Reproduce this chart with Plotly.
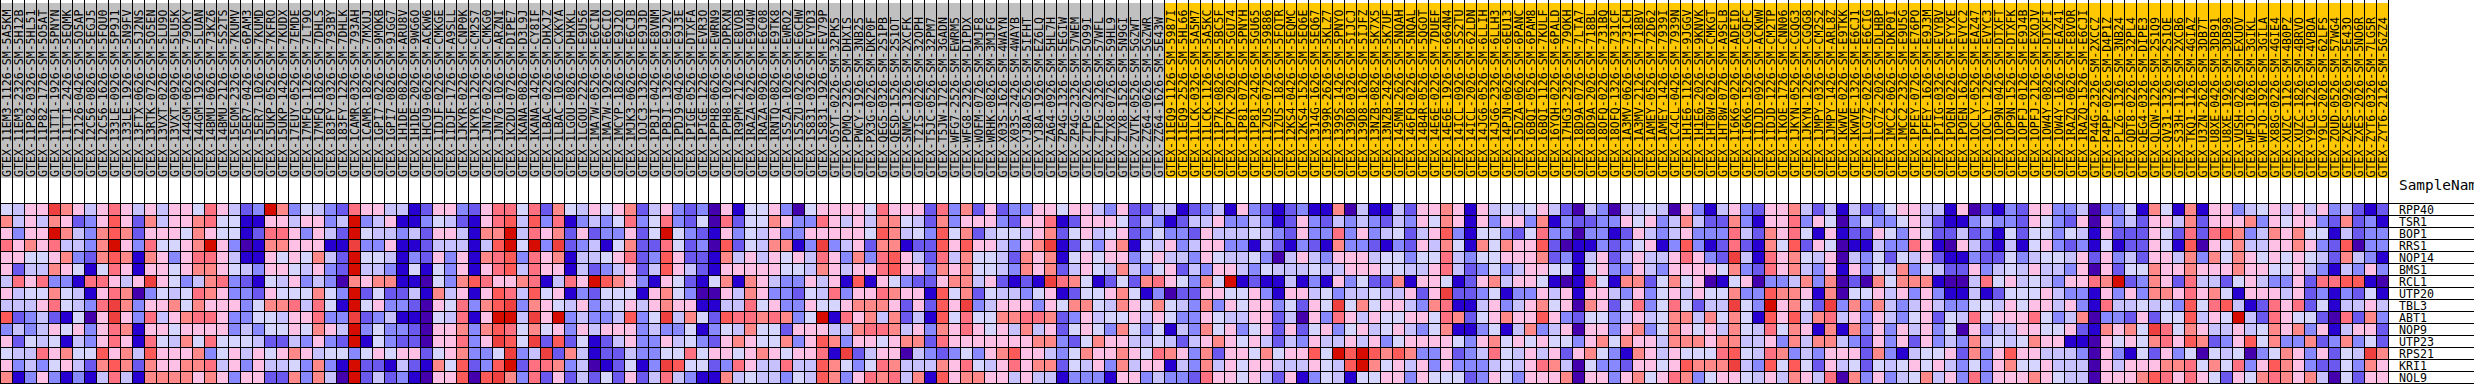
import plotly.graph_objects as go

GENES = ["RPP40","TSR1","BOP1","RRS1","NOP14","BMS1","RCL1","UTP20","TBL3","ABT1","NOP9","UTP23","RPS21","KRI1","NOL9"]
PALETTE = ["#4500AD","#2700D1","#6B58EF","#8888FF","#C7C1FF","#D5D5FF","#FFC0E5","#FF8989","#FF7080","#FF5A5A","#EF4040","#D60C00"]
GROUP_COLORS = ["#C0C0C0","#FFC800"]

SAMPLES_A = "11EM3-1126-SM-5A5KM 11EM3-2326-SM-5H12B 11P82-0326-SM-5HL51 11P82-1726-SM-5O5AT 11TT1-1926-SM-5PNYN 11TT1-2426-SM-5EQMK 12126-0426-SM-5O5AP 12C56-0826-SM-5EGJ5 12C56-1626-SM-5FQU0 133LE-0926-SM-5P9J1 133LE-1926-SM-5N9FV 13FTX-0626-SM-5J2NS 13RTK-0726-SM-5O5EN 13VXT-0226-SM-5LU9O 13VXT-0926-SM-5LU5K 144GM-0626-SM-79OKY 144GM-1926-SM-5LUAN 14BMU-0626-SM-73KZ6 14BMU-2126-SM-5S2TS 15EOM-2326-SM-7KUMV 15ER7-0426-SM-6PAM3 15ER7-1026-SM-7KUMD 15UKP-0526-SM-7KFRO 15UKP-1426-SM-7KUDX 17EUY-0526-SM-7EMDE 17MFQ-1126-SM-7LT9O 17MFQ-1826-SM-7DHLS 183FY-0326-SM-793BY 183FY-1226-SM-7DHLK 1CAMR-0326-SM-793AH 1CAMR-1826-SM-7MXUJ 1GPI7-0226-SM-9MOKB 1GPI7-0826-SM-9JGG7 1H1DE-0826-SM-ARU8V 1H1DE-2026-SM-9WG6O".split()
SAMPLES_B = "1HCU9-0626-SM-ACKW6 1IDJF-0226-SM-CMKGE 1IDJF-1726-SM-A9SLL 1JKYR-0226-SM-CNP0K 1JKYR-1226-SM-CM2S7 1JN76-0226-SM-CMKG0 1JN76-1026-SM-ARZNI 1K2DU-0726-SM-DIPE7 1KANA-0826-SM-D3L9J 1KANA-1426-SM-CY8IF 1LBAC-0226-SM-DHXJZ 1LBAC-1026-SM-CXKYA 1LGOU-0826-SM-DHXKL 1LGOU-2226-SM-E9U56 1MA7W-0526-SM-E6CIN 1MA7W-1926-SM-E6CIO 1MCYP-1826-SM-E9J2O 1MJK3-0626-SM-E6CJB 1OJC3-1326-SM-E9J3D 1PBJI-0426-SM-E8VNM 1PBJI-1326-SM-E9J2V 1PDJ9-0426-SM-E9J3E 1PIGE-0526-SM-DTXFA 1PIGE-1226-SM-EVR3O 1PPH8-0626-SM-EWRN9 1PPH8-1026-SM-DPRXN 1R9PM-2126-SM-E8VOB 1RAZA-0226-SM-E9U4W 1RAZA-0926-SM-E6C08 1RNTQ-0826-SM-E9TK8 1S5ZA-1026-SM-EWRO2 1S5ZU-0226-SM-E6CHW 1S831-0326-SM-EVYD3 1S831-1926-SM-EV79P O5YT-0226-SM-32PK5".split()
SAMPLES_C = "POMQ-2326-SM-DHXIS PWCY-1926-SM-3NB25 PX3G-0226-SM-DKP0F QEG5-0326-SM-2S1PB QESD-1526-SM-2S1OT SNMC-1326-SM-2XCFK T2IS-0226-SM-32OPH T5JC-0526-SM-32PM7 T5JW-1726-SM-3GADN WFG7-2526-SM-EWRM5 WFG8-2326-SM-DIPDX WOFM-0726-SM-3MJF8 WRHK-0826-SM-3MJFG X03S-1626-SM-4WAYN X03S-2426-SM-4WAYB YJ8A-0526-SM-5IFHT YJ8A-1926-SM-EZ6LQ ZA64-0926-SM-5HL7H ZP4G-1326-SM-5EGIW ZP4G-2326-SM-57WEM ZTPG-0226-SM-5O99I ZTPG-2326-SM-57WFL ZTX8-0726-SM-59HL9 ZTX8-1526-SM-5N9GI ZVTK-0526-SM-5GZWT ZZ64-0626-SM-5GZWR ZZ64-1626-SM-5E43W 11EQ9-1126-SM-5987I 11EQ9-2526-SM-5HL66 11LCK-0326-SM-5A5M7 11LCK-1126-SM-5A5KC 11P7K-0826-SM-5BC5F 11P7K-2026-SM-5GU74 11P81-0726-SM-5PNYH 11P81-2426-SM-5GU65".split()
SAMPLES_D = "11ZUS-0726-SM-59886 11ZUS-1826-SM-5FQTR 12KS4-0426-SM-5EQMC 12KS4-1526-SM-5EQ6E 1314G-1626-SM-5EQ67 1399R-2626-SM-5KLZ7 1399S-1426-SM-5PNYO 139D8-0326-SM-5IJCJ 139D8-1626-SM-5IJFZ 13NZB-0826-SM-5K7X5 13NZB-2426-SM-5K7UF 145MN-2626-SM-5NQAH 146FQ-0226-SM-5NQAL 14B4R-0526-SM-5QGOT 14E6E-0226-SM-7DUEF 14E6E-1926-SM-664N4 14ICL-0926-SM-5S2TU 14ICL-2026-SM-62LDN 14JG6-0526-SM-6LLIH 14JG6-2326-SM-6LLH3 14PJN-0626-SM-6EU13 15DZA-0626-SM-6PANC 16BQI-0526-SM-6PAM8 16BQI-1126-SM-7KULF 16YQH-0226-SM-6PALD 17HG3-2326-SM-79OKH 18D9A-0726-SM-7LTA7 18D9A-2026-SM-718BL 18OFQ-0226-SM-731BQ 18OFQ-1326-SM-731CF 1A3MV-0626-SM-731CH 1A3MV-2126-SM-718BV 1AMEY-0526-SM-72D62 1AMEY-1426-SM-7939I 1C4CL-0426-SM-7939N".split()
SAMPLES_E = "1H1E6-1126-SM-9JGGV 1H1E6-2026-SM-9KNVK 1HT8W-0226-SM-CMKGT 1HT8W-0726-SM-A9SLB 1I6K6-0226-SM-ADEID 1I6K6-1526-SM-CGQFC 1IDJD-0926-SM-ACKWW 1IDJD-1226-SM-CM2TP 1IKOE-1726-SM-CNN06 1JKYN-0526-SM-CGQG3 1JKYN-1226-SM-CGQG8 1JMPY-0326-SM-CM2S2 1JMPY-1426-SM-ARL8Z 1KWVE-0226-SM-E9TKK 1KWVE-1326-SM-E6CJ1 1LG7Z-0226-SM-E6CIG 1LG7Z-2026-SM-DLHBP 1MCC2-0626-SM-DKP0I 1MCC2-2326-SM-E9U5G 1PFEY-0726-SM-E76PO 1PFEY-1626-SM-E9J3M 1PIIG-0326-SM-EVYBV 1POEN-0226-SM-EYYXE 1POEN-1626-SM-EVYC2 1OCLY-0526-SM-EAZ47 1OCLY-1226-SM-EVYC3 1OP9N-0426-SM-DTXFT 1OP9N-1526-SM-DTXFK 1OPFJ-0126-SM-E9J4B 1OPFJ-2126-SM-EXOJV 1OW4Y-0826-SM-DTXFI 1OW4Y-1626-SM-EAZ41 1RAZQ-0626-SM-E8VOR 1RAZQ-1526-SM-E6CJI P44G-2326-SM-2XCCZ".split()
SAMPLES_F = "P4PP-0226-SM-D4P1Z PLZ6-1326-SM-3NB24 QDT8-0226-SM-32PL4 QEG4-0326-SM-DIPE3 QLQW-1226-SM-2S1Q9 QV31-1326-SM-2S1OE S33H-1126-SM-2XCB6 TKQ1-1126-SM-4GIAZ U3ZN-2626-SM-3DB7T U8XE-0426-SM-3DB91 U8XE-1926-SM-3DB98 VUSH-0226-SM-EXUOV WFJO-1026-SM-3GIKL WFJO-1926-SM-3GILA X88G-0226-SM-4GIE4 XUZC-1126-SM-4B0PZ XUZC-1826-SM-4BRVO Y9LG-1226-SM-4VBOA Y9LG-2026-SM-62LFS ZOUD-0526-SM-57WG4 ZXES-0926-SM-5E43O ZXES-2026-SM-5NO6R ZYT6-0326-SM-7LG5R ZYT6-2126-SM-5GZZ4".split()
SAMPLES = ["GTEX-" + s for s in SAMPLES_A + SAMPLES_B + SAMPLES_C + SAMPLES_D + SAMPLES_E + SAMPLES_F]
GROUP = [0] * 97 + [1] * 102

RPP40 = [5,4,6,6,10,7,6,4,6,8,6,4,6,4,6,6,5,8,6,4,2,3,11,7,3,5,4,3,2,8,6,6,4,4,1,
 2,6,6,3,2,6,8,8,5,8,2,7,5,4,6,5,6,7,2,4,6,3,2,3,0,6,1,5,5,6,3,0,5,6,6,
 6,6,5,8,6,6,6,2,8,3,7,2,6,2,3,3,6,6,5,6,6,4,3,6,2,2,4,4,1,2,3,4,1,6,3,
 2,1,2,3,1,1,7,0,4,1,1,4,2,6,6,7,6,1,6,4,5,4,5,6,4,2,0,4,3,0,4,4,5,4,0,
 6,3,1,4,6,3,2,6,6,7,4,2,4,1,4,2,3,5,6,6,4,4,1,6,0,2,1,3,2,6,6,3,3,4,0,
 3,3,5,1,7,5,1,7,1,6,6,3,4,5,6,4,6,4,6,3,4,2,1,2]
TSR1 = [7,4,6,4,7,6,2,3,6,9,6,2,7,4,6,6,7,8,5,5,1,1,6,6,4,6,6,3,4,11,3,4,6,1,1,
 3,5,4,2,1,6,8,9,4,9,3,8,1,3,4,3,5,8,3,5,8,3,2,5,0,8,2,5,5,7,6,3,3,8,6,
 4,6,4,7,7,5,4,2,7,3,6,6,6,3,2,6,6,8,1,2,6,6,6,5,2,4,3,1,2,4,4,6,3,3,4,
 3,1,2,6,3,2,4,3,4,3,2,4,3,6,5,7,6,1,6,3,6,6,3,7,1,3,2,2,3,3,6,5,6,3,4,
 7,4,2,2,7,3,1,6,6,8,3,6,5,0,3,5,3,3,5,6,4,2,1,1,3,4,3,3,2,6,5,3,2,6,0,
 6,3,4,2,6,6,4,7,2,6,6,6,7,3,6,5,6,6,3,2,7,2,3,1]
BOP1 = [6,3,6,6,11,7,4,3,7,9,7,2,6,6,6,5,7,6,5,5,1,2,8,8,6,3,6,4,2,11,5,4,4,3,4,
 2,6,6,4,1,7,7,11,4,8,6,7,2,6,2,3,3,6,2,5,11,5,3,2,1,6,3,5,4,6,3,3,6,6,6,
 6,6,5,9,7,4,5,3,9,5,7,2,4,5,5,4,6,7,2,5,6,4,5,6,2,3,5,3,3,2,6,4,4,4,5,
 4,3,2,6,3,3,8,3,6,3,4,5,2,4,6,9,3,1,5,5,3,2,5,8,3,3,0,3,3,1,2,6,4,3,4,
 6,3,3,3,8,4,2,7,6,8,5,1,6,1,2,2,6,5,3,6,5,2,2,4,2,3,1,5,2,5,5,3,5,4,1,
 6,2,2,2,6,5,2,8,2,8,9,7,3,4,7,6,7,5,5,1,4,2,3,3]
RRS1 = [8,6,7,6,8,4,4,3,7,11,6,3,8,5,5,6,7,11,6,3,0,1,7,7,6,6,6,1,1,10,3,3,6,1,1,
 2,4,4,4,1,4,9,11,5,11,3,10,2,3,4,1,5,7,2,2,8,5,2,3,0,9,2,5,4,7,7,1,3,10,3,
 4,6,2,7,7,1,2,2,9,6,9,6,6,4,3,6,7,10,1,2,5,3,6,7,1,5,4,6,3,4,6,6,3,3,1,
 4,2,1,3,2,1,7,3,3,2,1,3,2,6,4,7,5,1,7,5,7,6,6,9,2,0,1,1,3,2,3,5,6,1,3,
 9,3,1,2,8,2,1,7,5,9,2,6,5,0,1,1,4,3,3,8,6,1,0,6,4,2,1,4,1,5,6,3,2,3,1,
 5,1,2,2,6,5,1,9,0,6,5,7,4,4,6,6,7,6,3,2,9,0,3,3]
NOP14 = [6,6,5,5,6,7,3,2,7,9,7,1,7,6,3,6,8,8,6,4,1,1,6,5,6,5,7,4,2,11,5,5,4,1,3,
 2,6,3,6,1,7,8,9,3,8,6,7,1,4,4,5,6,8,2,3,9,6,2,2,1,7,4,6,4,6,5,6,4,8,6,
 3,7,3,8,9,6,4,2,8,4,7,5,5,4,2,7,6,7,1,5,6,5,6,6,3,5,6,4,4,3,6,5,4,4,5,
 3,0,4,6,4,3,6,6,6,4,5,5,3,5,5,8,4,3,5,5,6,6,6,7,2,3,1,4,6,2,4,6,4,4,6,
 8,6,3,2,10,4,1,8,6,7,5,4,6,0,4,3,5,2,5,4,6,2,1,1,3,2,2,5,3,4,5,5,4,6,2,
 6,3,4,2,6,6,4,7,3,7,5,7,6,5,6,5,6,5,4,2,7,4,3,1]
BMS1 = [6,2,4,4,7,6,5,1,5,8,6,1,6,6,5,6,7,7,6,5,4,3,6,6,5,4,6,3,2,11,4,4,3,1,5,
 1,5,3,6,1,6,8,9,4,8,6,6,1,4,2,3,4,6,2,4,9,6,4,2,1,6,6,6,6,6,5,5,4,7,6,
 4,6,6,8,9,6,6,3,7,6,7,5,5,4,3,7,6,7,2,4,6,5,4,7,4,3,5,6,2,4,3,6,6,4,3,
 5,4,4,4,5,4,4,6,6,6,5,5,4,4,6,8,4,2,3,5,3,4,6,6,5,5,1,5,6,3,3,6,4,3,6,
 6,6,6,5,7,3,2,8,6,7,4,3,6,1,6,3,5,4,7,3,5,4,2,2,6,3,4,5,4,6,4,4,3,6,0,
 6,2,5,5,7,6,6,7,6,6,6,7,6,6,5,5,6,4,3,1,4,3,6,3]
RCL1 = [4,8,6,8,3,3,1,8,8,6,4,6,10,6,5,3,4,7,8,3,2,1,5,4,6,3,4,3,0,7,6,7,7,1,1,
 0,5,3,7,9,8,6,6,7,8,1,4,8,6,11,9,7,6,3,1,6,5,2,1,5,7,1,7,6,4,3,3,6,4,6,
 1,9,1,6,5,3,2,2,6,7,7,4,6,2,1,2,1,10,8,7,5,1,2,5,2,7,8,6,5,3,7,5,11,1,2,
 1,1,4,1,3,1,6,3,5,2,2,7,1,6,6,5,1,2,6,7,4,6,6,5,1,0,1,8,5,1,7,7,2,5,7,
 5,6,0,1,5,6,0,3,3,4,7,3,7,0,2,0,7,5,7,7,7,1,0,0,4,8,5,6,4,5,4,3,6,6,8,
 7,11,2,3,7,6,2,8,4,4,2,5,6,4,3,3,6,2,8,8,9,9,1,0]
UTP20 = [6,4,5,5,7,5,4,1,6,8,7,0,3,5,4,5,8,7,6,3,3,2,6,5,5,5,7,5,3,11,2,5,2,2,4,
 1,7,4,6,1,6,9,8,4,9,5,6,1,3,2,5,5,5,1,6,7,5,3,0,0,6,4,7,6,3,3,2,5,4,8,
 3,6,6,8,7,6,6,1,9,5,7,2,5,4,4,3,5,6,1,2,5,5,6,7,5,1,3,0,2,2,6,6,5,5,6,
 3,1,6,6,4,5,3,4,4,5,4,4,6,2,6,10,2,2,3,5,1,3,3,6,4,6,1,6,6,4,3,6,3,5,6,
 4,6,5,5,7,3,3,9,7,7,6,1,7,0,5,5,6,4,6,3,6,3,1,1,4,1,2,5,5,5,6,4,3,3,1,
 6,3,6,3,7,7,6,8,6,7,5,1,6,6,6,4,6,2,3,1,3,2,5,1]
TBL3 = [4,4,4,6,8,5,4,3,8,10,7,3,6,6,7,5,7,6,6,6,3,5,7,7,8,4,8,5,1,11,5,6,3,3,2,
 0,6,5,8,3,7,9,10,3,7,6,5,4,6,3,4,5,6,4,6,7,6,6,1,1,4,4,8,5,6,3,3,6,5,5,
 6,7,7,7,6,2,6,2,9,6,10,3,4,6,6,6,3,6,5,7,7,5,4,7,6,5,7,5,4,3,7,3,6,5,6,
 6,3,5,2,6,5,10,5,7,5,6,6,4,3,7,8,1,1,4,6,3,4,6,7,5,6,0,7,6,2,5,8,3,5,8,
 5,2,4,4,10,5,3,11,6,7,5,2,10,3,7,3,7,4,3,4,6,4,3,3,5,5,4,6,5,6,6,4,6,3,1,
 8,4,4,5,4,5,3,9,5,8,9,4,1,2,8,6,8,2,5,1,4,4,6,4]
ABT1 = [9,2,3,4,2,1,5,0,6,10,6,3,8,4,6,7,8,8,6,3,3,5,5,4,6,6,8,3,3,10,2,3,4,1,1,
 0,5,4,8,1,6,11,11,4,10,6,11,3,4,3,3,4,9,3,5,10,4,7,5,2,9,8,8,7,8,7,3,5,11,1,
 8,6,7,4,7,2,4,1,9,5,8,5,5,7,7,8,8,7,2,3,6,4,5,5,6,4,6,5,3,3,6,5,4,4,6,
 6,2,4,0,6,3,8,6,4,6,5,5,6,6,5,8,7,2,5,6,7,6,6,9,6,3,2,5,5,3,4,6,4,5,7,
 7,4,7,5,7,5,1,9,6,9,4,7,8,4,6,3,6,4,3,5,6,2,5,4,8,5,6,6,6,8,5,3,4,7,0,
 3,3,2,6,2,5,5,9,4,6,5,11,4,2,8,6,5,5,2,0,8,2,7,3]
NOP9 = [3,4,3,4,6,5,6,3,6,8,7,1,6,6,5,6,6,6,6,3,4,3,5,5,6,5,7,6,4,11,3,5,3,3,2,
 0,6,6,7,3,7,9,8,5,7,5,6,3,6,4,6,6,6,3,4,3,3,5,1,3,5,4,7,5,5,2,6,6,6,4,
 4,7,8,8,7,4,6,3,7,6,8,6,5,6,4,7,4,6,2,5,6,5,3,7,5,3,5,1,4,3,7,5,6,3,5,
 6,2,6,2,5,6,3,5,6,4,5,6,4,3,5,7,1,1,3,5,1,4,7,3,4,6,0,6,6,3,6,7,3,5,7,
 6,5,6,4,7,5,4,8,5,7,6,1,7,1,7,3,6,3,6,4,6,3,5,0,6,3,4,4,6,6,5,5,6,2,1,
 7,6,7,5,10,8,5,7,6,4,4,6,4,5,7,6,7,3,6,1,4,6,6,2]
UTP23 = [6,2,5,4,5,1,4,3,6,8,6,1,8,5,4,7,5,8,5,5,5,4,2,2,4,3,6,3,2,11,1,5,3,2,2,
 0,6,6,8,3,6,10,9,5,10,2,9,2,5,1,2,4,6,3,3,6,4,5,3,2,6,7,6,5,5,7,3,6,9,7,
 3,6,6,5,6,7,7,2,8,6,6,6,6,6,6,6,7,7,3,2,5,7,6,6,4,4,5,4,2,4,6,7,6,5,6,
 4,2,4,3,6,4,4,6,4,6,3,5,6,6,6,6,5,3,6,7,5,6,5,6,5,5,3,6,7,5,7,6,6,4,7,
 7,7,6,7,7,4,4,6,3,7,4,7,7,4,3,2,6,3,6,2,6,3,4,3,7,4,5,4,5,7,6,6,1,1,0,
 6,5,6,5,7,8,6,9,7,2,3,6,9,5,7,3,3,7,2,3,7,3,5,2]
RPS21 = [5,4,4,8,6,7,5,5,9,6,7,4,9,6,6,6,7,3,5,6,4,6,5,6,7,6,4,5,5,3,5,6,5,6,6,
 2,5,6,7,3,3,5,10,3,4,10,2,7,4,1,2,2,4,3,3,5,5,8,5,6,6,5,6,7,6,5,6,6,8,1,
 10,2,4,6,6,0,4,3,2,3,5,3,6,7,9,6,6,4,3,5,7,6,6,7,6,5,8,7,6,3,7,2,6,6,5,
 7,5,6,6,9,5,11,9,11,9,7,9,7,3,3,6,2,3,4,8,5,4,6,4,6,2,6,7,5,3,1,7,6,4,6,
 5,5,5,8,9,5,4,8,7,3,4,3,6,6,6,2,7,3,1,4,5,5,6,2,7,3,6,9,6,6,4,4,4,3,0,
 6,3,1,5,2,6,3,5,0,5,4,5,0,3,5,7,6,3,6,2,5,4,10,7]
KRI1 = [6,3,4,3,5,6,4,2,7,9,7,2,7,6,6,7,7,8,4,6,3,6,4,4,5,3,7,3,1,11,2,2,1,4,2,
 1,7,5,9,2,3,9,11,2,8,8,7,3,4,0,1,2,5,1,3,10,9,5,5,2,3,8,6,4,4,8,4,4,9,7,
 5,3,5,8,7,4,4,4,7,6,8,5,4,6,8,6,7,7,2,5,4,6,3,7,4,6,6,1,4,3,7,4,6,5,6,
 6,4,4,4,6,5,4,9,11,7,5,6,4,6,3,6,3,3,3,4,5,4,6,8,7,4,0,5,3,3,2,6,6,5,6,
 9,7,7,7,10,4,3,9,5,9,5,2,6,4,5,2,5,4,5,6,5,6,4,3,5,3,6,7,5,5,6,4,4,4,0,
 6,4,6,6,6,7,7,8,5,7,5,8,3,6,9,7,6,3,2,2,5,3,7,6]
NOL9 = [7,1,3,6,3,1,3,1,4,8,4,1,7,7,7,7,6,7,6,3,6,6,2,2,7,3,7,4,0,11,2,4,2,3,1,
 0,6,6,9,0,9,10,7,3,8,2,6,2,4,2,5,2,6,2,4,8,4,3,1,1,7,4,5,4,4,3,5,4,9,7,
 3,6,8,7,8,4,7,1,9,6,7,7,6,6,4,6,4,4,1,3,3,3,1,6,6,3,4,3,3,2,8,6,6,5,6,
 4,2,6,1,3,5,4,1,5,5,6,6,3,6,5,5,5,2,3,6,5,3,6,6,6,7,0,6,6,3,6,7,5,6,8,
 7,3,5,6,6,5,4,6,4,7,6,4,8,0,7,3,6,3,4,5,7,4,6,3,8,3,6,6,6,7,6,5,4,4,0,
 6,6,6,7,9,8,6,8,6,5,2,6,5,7,8,7,6,7,4,0,5,2,6,6]
MATRIX = [RPP40,TSR1,BOP1,RRS1,NOP14,BMS1,RCL1,UTP20,TBL3,ABT1,NOP9,UTP23,RPS21,KRI1,NOL9]

W, H, CELL = 2474, 384, 12
TOP, HDR_TOP, HDR_BOT = 203.5, 3, 178
n_col, n_row = len(SAMPLES), len(GENES)

def px_y(p):
    return (p - TOP) / CELL - 0.5
def px_x(p):
    return (p - 0.5) / CELL - 0.5

def steps(colors):
    n = len(colors)
    out = []
    for k, c in enumerate(colors):
        out += [[k / n, c], [(k + 1) / n, c]]
    return out

fig = go.Figure()
fig.add_trace(go.Heatmap(z=[GROUP], x=list(range(n_col)), y0=px_y((HDR_TOP + HDR_BOT) / 2), dy=(HDR_BOT - HDR_TOP) / CELL,
                         colorscale=steps(GROUP_COLORS), zmin=-0.5, zmax=1.5, showscale=False, hoverinfo="skip"))
fig.add_trace(go.Heatmap(z=MATRIX, x=list(range(n_col)), y=list(range(n_row)),
                         colorscale=steps(PALETTE), zmin=-0.5, zmax=11.5, showscale=False))

gx, gy = [], []
for k in range(n_col + 1):
    gx += [k - 0.5, k - 0.5, None]
    gy += [px_y(-1), px_y(H + 1), None]
for r in range(n_row + 1):
    gx += [-0.5, px_x(W + 1), None]
    gy += [r - 0.5, r - 0.5, None]
fig.add_trace(go.Scatter(x=gx, y=gy, mode="lines", line=dict(color="#000000", width=1), hoverinfo="skip", showlegend=False))

MONO = "DejaVu Sans Mono"
ann = []
for i, s in enumerate(SAMPLES):
    ann.append(dict(x=i, y=px_y(HDR_BOT - 0.5), xref="x", yref="y", text=s, textangle=-90, showarrow=False,
                    xanchor="center", yanchor="bottom", borderpad=0, borderwidth=0,
                    font=dict(family=MONO, size=11.6, color="#000000")))
for r, g in enumerate(GENES):
    ann.append(dict(x=px_x(2398.5), y=r + 0.5, xref="x", yref="y", text=g, showarrow=False,
                    xanchor="left", yanchor="bottom", yshift=-1, borderpad=0, borderwidth=0,
                    font=dict(family=MONO, size=11.6, color="#000000")))
ann.append(dict(x=px_x(2398.5), y=px_y(189.5), xref="x", yref="y", text="SampleName", showarrow=False,
                xanchor="left", yanchor="bottom", yshift=-3, borderpad=0, borderwidth=0,
                font=dict(family=MONO, size=14.4, color="#000000")))

fig.update_layout(width=W, height=H, margin=dict(l=0, r=0, t=0, b=0), paper_bgcolor="#FFFFFF", plot_bgcolor="#FFFFFF",
                  showlegend=False, annotations=ann,
                  xaxis=dict(range=[px_x(0), px_x(W)], visible=False, fixedrange=True),
                  yaxis=dict(range=[px_y(H), px_y(0)], visible=False, fixedrange=True))
fig.write_html("out.html", post_script="document.body.style.margin='0';document.documentElement.style.overflow='hidden';", config=dict(displayModeBar=False))
